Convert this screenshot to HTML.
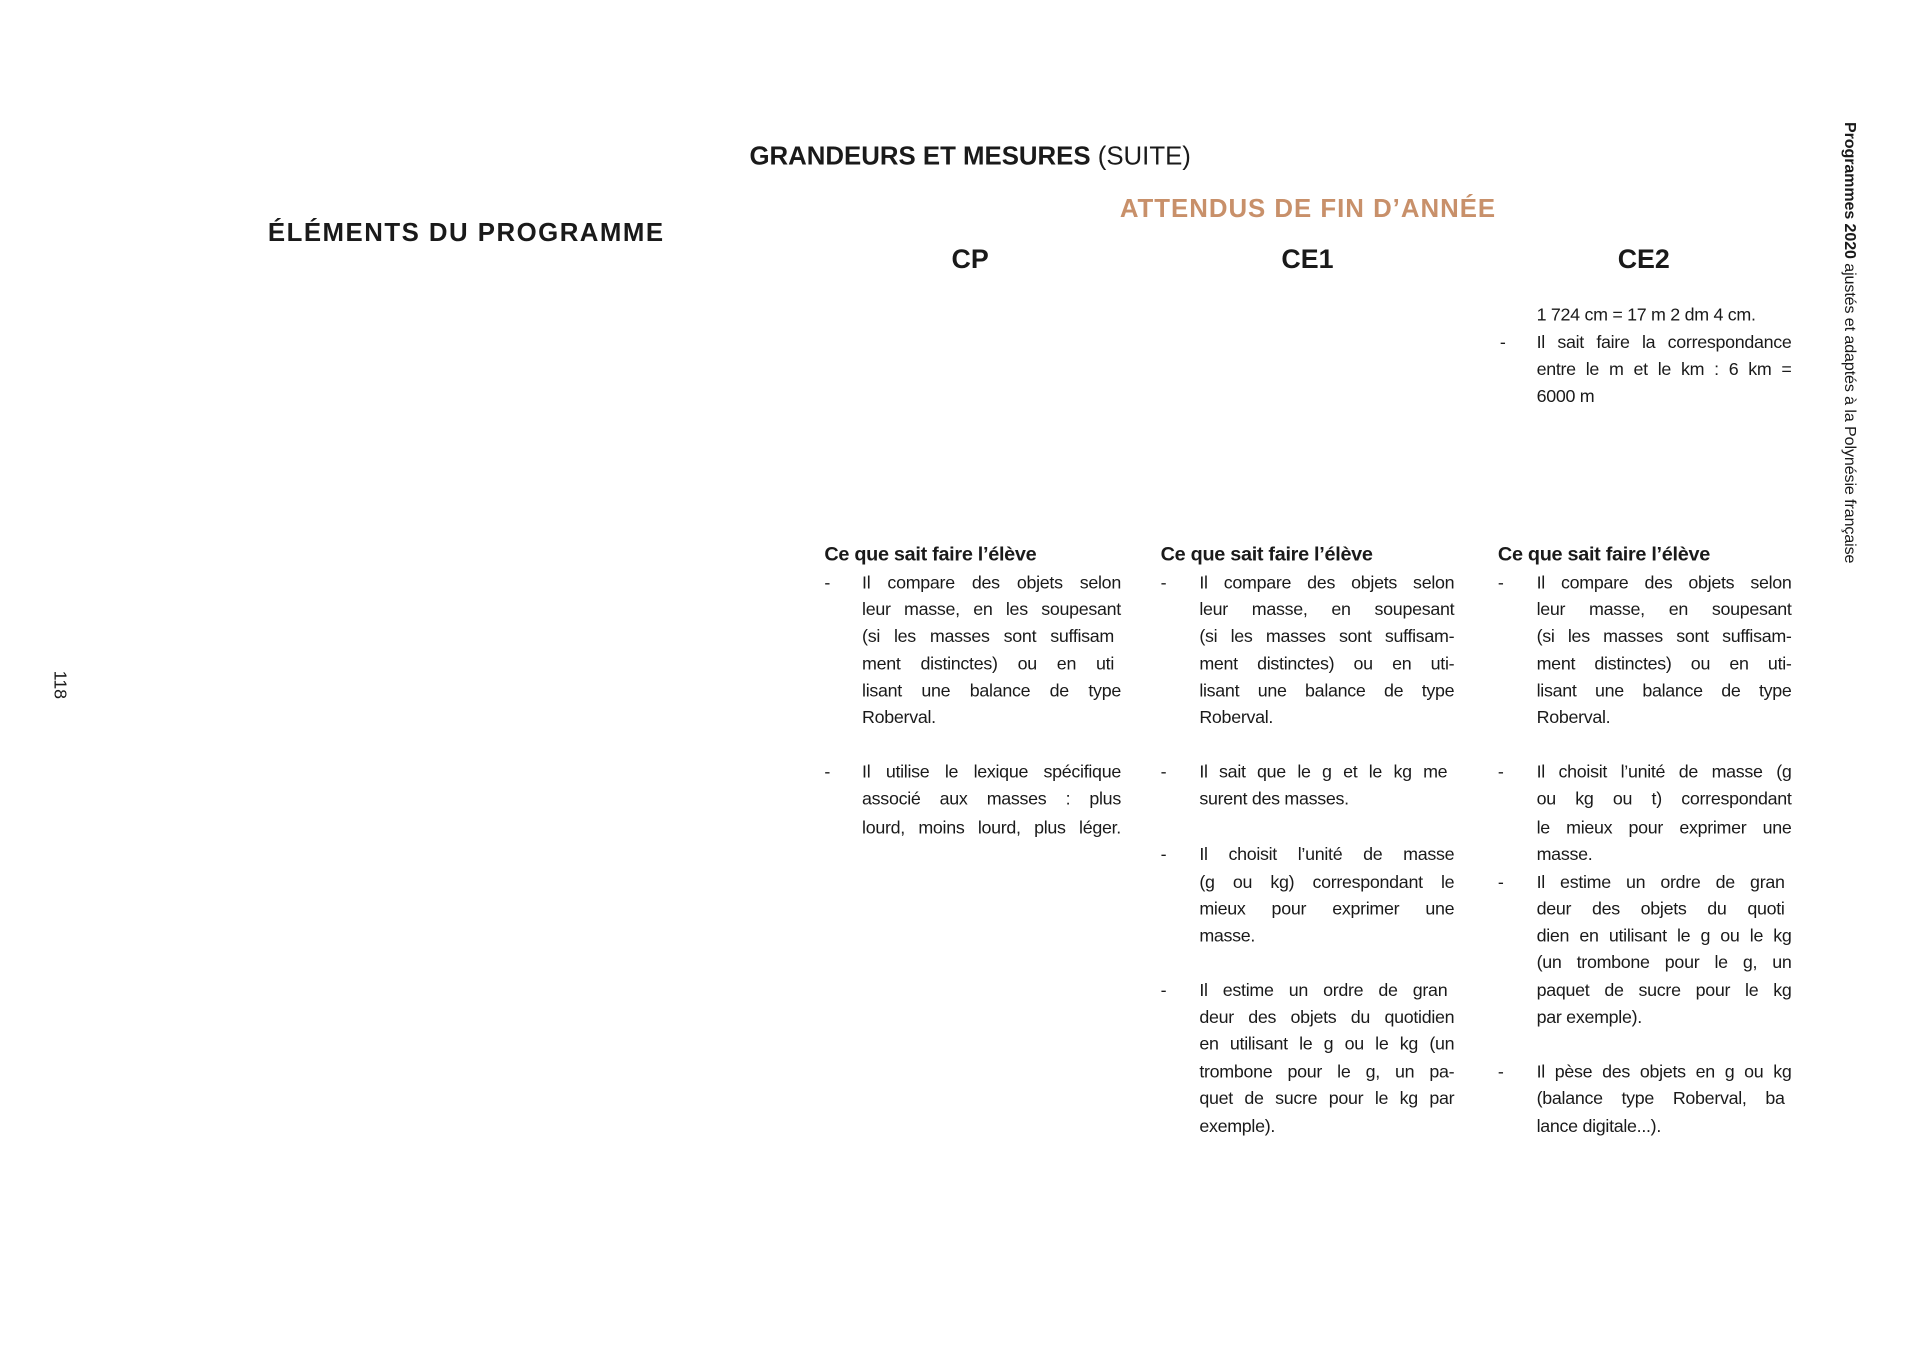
<!DOCTYPE html>
<html><head><meta charset="utf-8"><style>
body{margin:0;width:1909px;height:1350px;background:#fff;position:relative;overflow:hidden;font-family:"Liberation Sans",sans-serif;color:#1a1a1a}
#w{position:absolute;left:0;top:0;width:1909px;height:1350px;transform:scale(0.992);transform-origin:0 0}
.a{position:absolute;white-space:nowrap}
.h{font-weight:bold}
.l{position:absolute;font-size:18px;letter-spacing:-0.3px;line-height:26px;height:26px;white-space:nowrap;overflow:visible}
.j{text-align:justify;text-align-last:justify}
.d{position:absolute;font-size:18px;line-height:26px}
.sh{position:absolute;font-weight:bold;font-size:20px;letter-spacing:-0.3px;line-height:26px}
</style></head><body><div id="w">
<div class="a" style="left:0;width:1956px;text-align:center;top:142px;font-size:26px;letter-spacing:0px"><b>GRANDEURS ET MESURES</b> (SUITE)</div>
<div class="a h" style="left:1077px;width:483px;text-align:center;top:195px;font-size:26px;color:#c8906a;letter-spacing:1px">ATTENDUS DE FIN D’ANNÉE</div>
<div class="a h" style="left:218px;width:504px;text-align:center;top:219px;font-size:26px;letter-spacing:1.5px">ÉLÉMENTS DU PROGRAMME</div>
<div class="a h" style="left:928px;width:100px;text-align:center;top:246px;font-size:27px">CP</div>
<div class="a h" style="left:1268px;width:100px;text-align:center;top:246px;font-size:27px">CE1</div>
<div class="a h" style="left:1607px;width:100px;text-align:center;top:246px;font-size:27px">CE2</div>

<!-- CE2 top -->
<div class="l" style="left:1549px;top:304px">1 724 cm = 17 m 2 dm 4 cm.</div>
<div class="d" style="left:1512px;top:332px">-</div>
<div class="l j" style="left:1549px;width:257px;top:332px">Il sait faire la correspondance</div>
<div class="l j" style="left:1549px;width:257px;top:359px">entre le m et le km : 6 km =</div>
<div class="l" style="left:1549px;top:386px">6000 m</div>

<!-- headings -->
<div class="sh" style="left:831px;top:546px">Ce que sait faire l’élève</div>
<div class="sh" style="left:1170px;top:546px">Ce que sait faire l’élève</div>
<div class="sh" style="left:1510px;top:546px">Ce que sait faire l’élève</div>

<!-- CP -->
<div class="d" style="left:831px;top:574px">-</div>
<div class="l j" style="left:869px;width:261px;top:574px">Il compare des objets selon</div>
<div class="l j" style="left:869px;width:261px;top:601px">leur masse, en les soupesant</div>
<div class="l j" style="left:869px;width:254px;top:628px">(si les masses sont suffisam</div>
<div class="l j" style="left:869px;width:254px;top:656px">ment distinctes) ou en uti</div>
<div class="l j" style="left:869px;width:261px;top:683px">lisant une balance de type</div>
<div class="l" style="left:869px;top:710px">Roberval.</div>
<div class="d" style="left:831px;top:765px">-</div>
<div class="l j" style="left:869px;width:261px;top:765px">Il utilise le lexique spécifique</div>
<div class="l j" style="left:869px;width:261px;top:792px">associé aux masses : plus</div>
<div class="l j" style="left:869px;width:261px;top:821px">lourd, moins lourd, plus léger.</div>

<!-- CE1 -->
<div class="d" style="left:1170px;top:574px">-</div>
<div class="l j" style="left:1209px;width:257px;top:574px">Il compare des objets selon</div>
<div class="l j" style="left:1209px;width:257px;top:601px">leur masse, en soupesant</div>
<div class="l j" style="left:1209px;width:257px;top:628px">(si les masses sont suffisam-</div>
<div class="l j" style="left:1209px;width:257px;top:656px">ment distinctes) ou en uti-</div>
<div class="l j" style="left:1209px;width:257px;top:683px">lisant une balance de type</div>
<div class="l" style="left:1209px;top:710px">Roberval.</div>
<div class="d" style="left:1170px;top:765px">-</div>
<div class="l j" style="left:1209px;width:250px;top:765px">Il sait que le g et le kg me</div>
<div class="l" style="left:1209px;top:792px">surent des masses.</div>
<div class="d" style="left:1170px;top:848px">-</div>
<div class="l j" style="left:1209px;width:257px;top:848px">Il choisit l’unité de masse</div>
<div class="l j" style="left:1209px;width:257px;top:876px">(g ou kg) correspondant le</div>
<div class="l j" style="left:1209px;width:257px;top:903px">mieux pour exprimer une</div>
<div class="l" style="left:1209px;top:930px">masse.</div>
<div class="d" style="left:1170px;top:985px">-</div>
<div class="l j" style="left:1209px;width:250px;top:985px">Il estime un ordre de gran</div>
<div class="l j" style="left:1209px;width:257px;top:1012px">deur des objets du quotidien</div>
<div class="l j" style="left:1209px;width:257px;top:1039px">en utilisant le g ou le kg (un</div>
<div class="l j" style="left:1209px;width:257px;top:1067px">trombone pour le g, un pa-</div>
<div class="l j" style="left:1209px;width:257px;top:1094px">quet de sucre pour le kg par</div>
<div class="l" style="left:1209px;top:1122px">exemple).</div>

<!-- CE2 -->
<div class="d" style="left:1510px;top:574px">-</div>
<div class="l j" style="left:1549px;width:257px;top:574px">Il compare des objets selon</div>
<div class="l j" style="left:1549px;width:257px;top:601px">leur masse, en soupesant</div>
<div class="l j" style="left:1549px;width:257px;top:628px">(si les masses sont suffisam-</div>
<div class="l j" style="left:1549px;width:257px;top:656px">ment distinctes) ou en uti-</div>
<div class="l j" style="left:1549px;width:257px;top:683px">lisant une balance de type</div>
<div class="l" style="left:1549px;top:710px">Roberval.</div>
<div class="d" style="left:1510px;top:765px">-</div>
<div class="l j" style="left:1549px;width:257px;top:765px">Il choisit l’unité de masse (g</div>
<div class="l j" style="left:1549px;width:257px;top:792px">ou kg ou t) correspondant</div>
<div class="l j" style="left:1549px;width:257px;top:821px">le mieux pour exprimer une</div>
<div class="l" style="left:1549px;top:848px">masse.</div>
<div class="d" style="left:1510px;top:876px">-</div>
<div class="l j" style="left:1549px;width:250px;top:876px">Il estime un ordre de gran</div>
<div class="l j" style="left:1549px;width:250px;top:903px">deur des objets du quoti</div>
<div class="l j" style="left:1549px;width:257px;top:930px">dien en utilisant le g ou le kg</div>
<div class="l j" style="left:1549px;width:257px;top:957px">(un trombone pour le g, un</div>
<div class="l j" style="left:1549px;width:257px;top:985px">paquet de sucre pour le kg</div>
<div class="l" style="left:1549px;top:1012px">par exemple).</div>
<div class="d" style="left:1510px;top:1067px">-</div>
<div class="l j" style="left:1549px;width:257px;top:1067px">Il pèse des objets en g ou kg</div>
<div class="l j" style="left:1549px;width:250px;top:1094px">(balance type Roberval, ba</div>
<div class="l" style="left:1549px;top:1122px">lance digitale...).</div>

<div class="a" style="left:50px;top:676px;writing-mode:vertical-rl;font-size:18px">118</div>
<div class="a" style="left:1855px;top:123px;writing-mode:vertical-rl;font-size:16.2px;letter-spacing:-0.1px"><b>Programmes 2020</b> ajustés et adaptés à la Polynésie française</div>
</div></body></html>
